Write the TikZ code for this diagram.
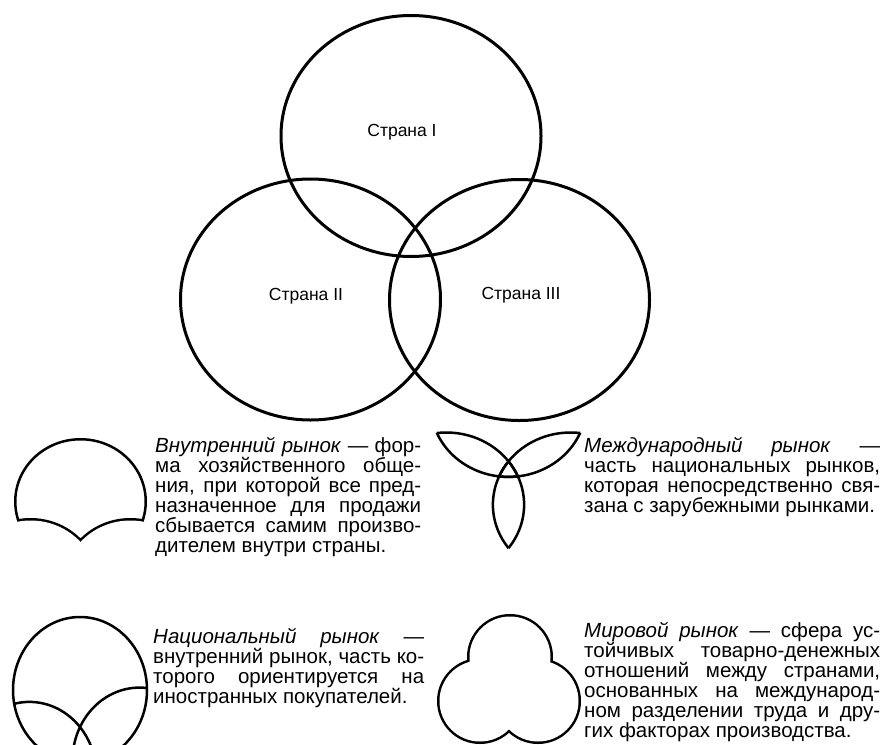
\documentclass[tikz,border=0pt]{standalone}
\usepackage{fontspec}
\setmainfont{Liberation Sans}
\usepackage{tikz}
\tolerance=10000
\tikzset{
	country/.style={line width=3pt},
	mini/.style={line width=2.5pt},
	wide/.style={line width=5pt},
	cname/.style={inner sep=0pt, font=\fontsize{17.5}{19}\selectfont},
	textblock/.style={anchor=base west, inner sep=0pt, align=justify, font=\fontsize{20.5}{20}\selectfont}
}

\begin{document}
\begin{tikzpicture}[x=1pt, y=-1pt]
	\useasboundingbox (0,0) rectangle (883,744);
	\clip (0,0) rectangle (883,744);
	% three countries
	\draw[country] (411,136) ellipse (130 and 120.5);
	\draw[country] (310.5,299.5) ellipse (130 and 120.5);
	\draw[country] (519.5,300) ellipse (130 and 120.5);
	\node[cname] (c1) at (402,132) {Страна I};
	\node[cname] (c2) at (306,296) {Страна II};
	\node[cname] (c3) at (521,295) {Страна III};
	% inner market
	\begin{scope}
		\clip (80.5,501.5) ellipse (66.5 and 63.5);
		\draw[wide] (80.5,501.5) ellipse (66.5 and 63.5);
		\draw[wide] (30.6,584) ellipse (66.5 and 63.5) (130.4,584) ellipse (66.5 and 63.5);
	\end{scope}
	\fill[white] (30.6,584) ellipse (66.5 and 63.5) (130.4,584) ellipse (66.5 and 63.5);
	% international market
	\begin{scope}
		\clip (446.3,504.7) ellipse (77.8 and 72.2);
		\draw[mini] (508.5,404.7) ellipse (77.8 and 72.2) (570.7,504.7) ellipse (77.8 and 72.2);
	\end{scope}
	\begin{scope}
		\clip (508.5,404.7) ellipse (77.8 and 72.2);
		\draw[mini] (446.3,504.7) ellipse (77.8 and 72.2) (570.7,504.7) ellipse (77.8 and 72.2);
	\end{scope}
	\begin{scope}
		\clip (570.7,504.7) ellipse (77.8 and 72.2);
		\draw[mini] (508.5,404.7) ellipse (77.8 and 72.2) (446.3,504.7) ellipse (77.8 and 72.2);
	\end{scope}
	% national market
	\begin{scope}
		\clip (80,690) ellipse (67 and 73);
		\draw[mini] (29.4,774.9) ellipse (67 and 73) (139.5,760.6) ellipse (67 and 73);
	\end{scope}
	\draw[mini] (80,690) ellipse (67 and 73);
	% world market
	\draw[wide] (510,657) circle (40.5) (480,701) circle (40.5) (538,701) circle (40.5);
	\fill[white] (510,657) circle (40.5) (480,701) circle (40.5) (538,701) circle (40.5);
	% texts
	\node[textblock, text width=266pt] (inner) at (155,452) {\textit{Внутренний рынок} — фор-\linebreak
		ма хозяйственного обще-\linebreak
		ния, при которой все пред-\linebreak
		назначенное для продажи\linebreak
		сбывается самим произво-\linebreak
		дителем внутри страны.};
	\node[textblock, text width=296pt] (intl) at (584,452) {\textit{Международный рынок} —\linebreak
		часть национальных рынков,\linebreak
		которая непосредственно свя-\linebreak
		зана с зарубежными рынками.};
	\node[textblock, text width=271pt] (natl) at (153,643) {\textit{Национальный рынок} —\linebreak
		внутренний рынок, часть ко-\linebreak
		торого ориентируется на\linebreak
		иностранных покупателей.};
	\node[textblock, text width=296pt] (world) at (584,637) {\parfillskip=0pt\relax
		\textit{Мировой рынок} — сфера ус-\linebreak
		тойчивых товарно-денежных\linebreak
		отношений между странами,\linebreak
		основанных на международ-\linebreak
		ном разделении труда и дру-\linebreak
		гих факторах производства.};
\end{tikzpicture}
\end{document}
